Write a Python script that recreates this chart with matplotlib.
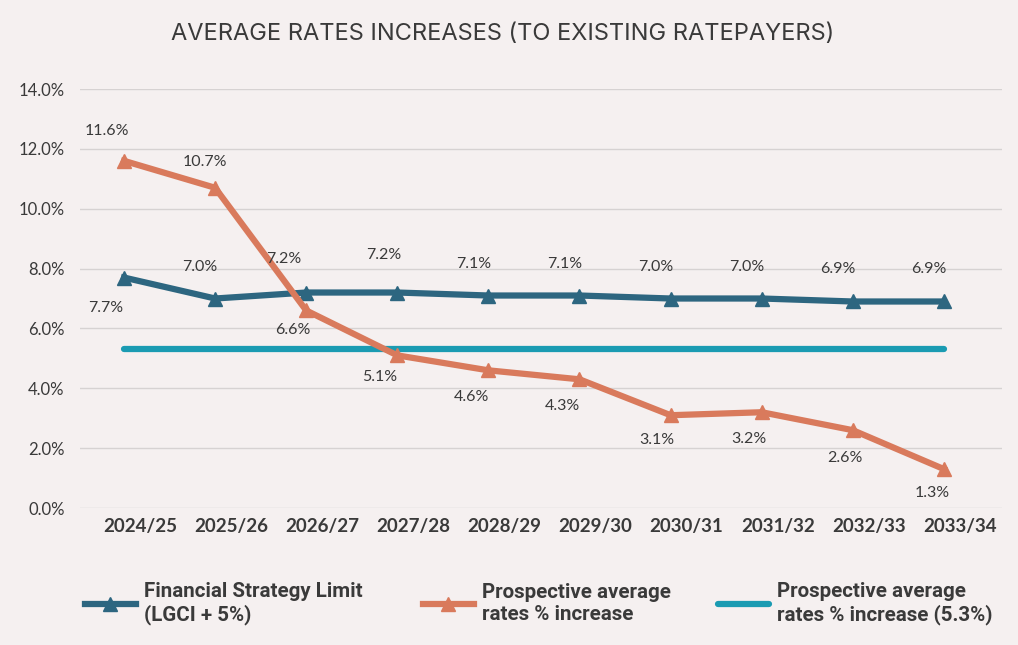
import matplotlib
matplotlib.use("Agg")
import matplotlib.pyplot as plt
import matplotlib.transforms as mtransforms
from matplotlib.lines import Line2D

years = ["2024/25", "2025/26", "2026/27", "2027/28", "2028/29",
         "2029/30", "2030/31", "2031/32", "2032/33", "2033/34"]
strategy_limit = [7.7, 7.0, 7.2, 7.2, 7.1, 7.1, 7.0, 7.0, 6.9, 6.9]
prospective = [11.6, 10.7, 6.6, 5.1, 4.6, 4.3, 3.1, 3.2, 2.6, 1.3]
prospective_avg = [5.3] * len(years)

# label offsets in pixels (dx, dy) relative to each point
limit_offsets = [(-18, -30)] + [(-15, 32)] * 9
limit_offsets[2] = (-22, 34)
limit_offsets[3] = (-14, 38)
prosp_offsets = [(-17, 30), (-10, 26), (-13, -20), (-18, -22), (-17, -27),
                 (-17, -27), (-14, -25), (-13, -27), (-8, -28), (-12, -24)]

BG = "#F5F0F0"
BLUE = "#2D6680"
ORANGE = "#D97A5C"
TEXT = "#3A3A3A"
TEAL = "#1A9BB2"

plt.rcParams['font.family'] = ['Lato', 'DejaVu Sans']

fig = plt.figure(figsize=(10.18, 6.45), dpi=100, facecolor=BG)
ax = fig.add_axes([0.0786, 0.2124, 0.9056, 0.6496])
ax.set_facecolor(BG)

x = list(range(len(years)))
ax.plot(x, prospective_avg, color=TEAL, lw=4.5, solid_capstyle="round", zorder=2)
ax.plot(x, strategy_limit, color=BLUE, lw=4.5, marker="^", ms=10, zorder=3)
ax.plot(x, prospective, color=ORANGE, lw=4.5, marker="^", ms=10, zorder=4)

for xi, v, off in zip(x, strategy_limit, limit_offsets):
    ax.annotate(f"{v:.1f}%", (xi, v), xytext=off, textcoords="offset pixels",
                ha="center", va="center", fontsize=11.5, color=TEXT, zorder=5)
for xi, v, off in zip(x, prospective, prosp_offsets):
    ax.annotate(f"{v:.1f}%", (xi, v), xytext=off, textcoords="offset pixels",
                ha="center", va="center", fontsize=11.5, color=TEXT, zorder=5)

ax.set_xlim(-0.483, 9.637)
ax.set_ylim(0, 14)
yt = [0, 2, 4, 6, 8, 10, 12, 14]
ax.set_yticks(yt)
ax.set_yticklabels([f"{t:.1f}%" for t in yt])
ax.set_xticks(x)
ax.set_xticklabels(years, fontweight="bold", fontsize=13.5)
ax.grid(axis="y", color="#D6D2D2", lw=1)
ax.set_axisbelow(True)
for s in ax.spines.values():
    s.set_visible(False)
ax.tick_params(axis="both", length=0, colors=TEXT)
ax.tick_params(axis="y", pad=11, labelsize=12)
ax.tick_params(axis="x", pad=7)

# category labels sit a little right of the points in the original
shift = mtransforms.ScaledTranslation(0.16, 0, fig.dpi_scale_trans)
for lbl in ax.get_xticklabels():
    lbl.set_transform(lbl.get_transform() + shift)

fig.text(0.494, 0.948, "AVERAGE RATES INCREASES (TO EXISTING RATEPAYERS)",
         ha="center", va="center", fontsize=17, color=TEXT,
         family=["Inter", "DejaVu Sans"])

legend_items = [
    (Line2D([], [], color=BLUE, lw=4.5, marker="^", ms=10),
     "Financial Strategy Limit\n(LGCI + 5%)", 0.065),
    (Line2D([], [], color=ORANGE, lw=4.5, marker="^", ms=10),
     "Prospective average\nrates % increase", 0.397),
    (Line2D([], [], color=TEAL, lw=4.5, solid_capstyle="round"),
     "Prospective average\nrates % increase (5.3%)", 0.687),
]
for h, lab, xpos in legend_items:
    fig.legend([h], [lab], loc="center left", bbox_to_anchor=(xpos, 0.064),
               frameon=False, handlelength=2.5, handletextpad=0.4,
               prop={"family": "Roboto", "weight": "bold", "size": 14.8},
               labelcolor=TEXT)

fig.savefig("out.png", dpi=100, facecolor=BG)
